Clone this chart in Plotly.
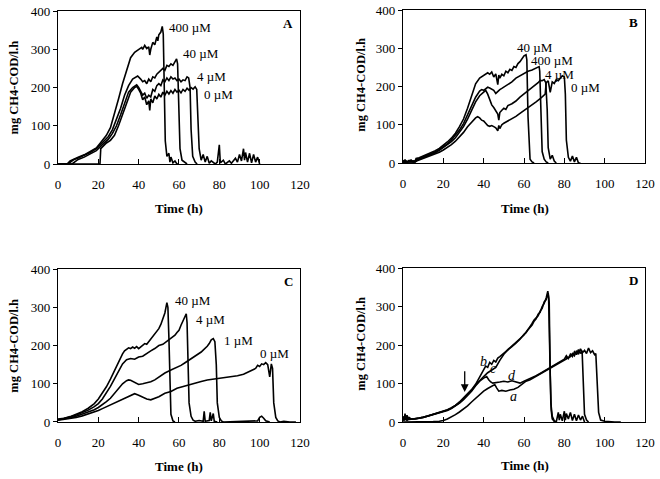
import plotly.graph_objects as go

# ---------------- Panel A ----------------
A_T_400 = [0, 4.5, 6, 8, 10, 13, 16, 19, 21, 22.5, 24, 26, 28, 30, 32, 34, 36, 38, 40, 41.5, 42, 43, 44, 45, 45.5, 46, 47, 48, 49, 49.5, 50, 51, 51.7, 52.2, 52.7, 53.2, 54, 55, 55.5, 56, 57, 58, 59, 60]
A_V_400 = [0, 0, 8, 14, 18, 24, 32, 42, 55, 65, 75, 95, 130, 170, 210, 245, 278, 292, 300, 305, 300, 310, 302, 306, 285, 300, 318, 312, 332, 322, 338, 345, 360, 340, 200, 60, 20, 28, 5, 18, 3, 8, 0, 0]

A_T_40 = [0, 5, 6.5, 8, 10, 13, 16, 19, 21, 23, 25, 27, 29, 31, 33, 35, 37, 39.5, 41, 42, 43, 44, 45, 46, 47, 48, 49, 50, 51, 52, 53, 54, 55, 56, 57, 58, 58.8, 59.3, 60, 60.5, 61.5, 63, 64]
A_V_40 = [0, 0, 6, 12, 16, 22, 30, 40, 50, 60, 72, 90, 115, 145, 180, 205, 222, 230, 222, 215, 218, 210, 222, 215, 228, 225, 235, 240, 245, 250, 245, 258, 255, 262, 258, 268, 275, 262, 120, 40, 10, 5, 0]

A_T_4 = [0, 7, 8.5, 10, 13, 16, 19, 21.5, 23, 25, 27, 29, 31, 33, 35, 37, 39, 40, 41, 42, 43, 44, 45, 46, 47, 48, 49, 50, 51, 52, 53, 54, 55, 56, 57, 58, 59, 60, 61, 62, 63, 64, 64.8, 65.5, 66, 66.8, 68, 69]
A_V_4 = [0, 0, 6, 12, 18, 26, 35, 48, 55, 65, 80, 100, 128, 160, 188, 200, 207, 200, 190, 180, 185, 172, 180, 175, 195, 190, 205, 210, 205, 220, 215, 225, 218, 228, 222, 225, 218, 222, 215, 220, 218, 228, 225, 200, 90, 20, 5, 0]

A_T_0 = [0, 20.8, 21.2, 22, 24, 26, 28, 30, 32, 34, 36, 38, 39, 40, 41, 42, 43, 44, 45, 45.5, 46, 47, 48, 49, 50, 51, 52, 53, 54, 55, 56, 57, 58, 59, 60, 61, 62, 63, 64, 65, 66, 67, 68, 68.8, 69.5, 70, 71, 72, 73, 74, 75, 76, 78, 79, 80, 80.5, 82, 83, 85, 86, 88, 89, 90, 91, 92, 92.5, 93, 94, 95, 96, 97, 98, 99, 100]
A_V_0 = [0, 0, 40, 45, 55, 62, 75, 100, 130, 160, 188, 200, 203, 195, 185, 168, 175, 155, 165, 140, 170, 160, 178, 170, 182, 175, 188, 180, 190, 183, 192, 185, 195, 188, 193, 186, 195, 190, 198, 193, 200, 196, 202, 195, 120, 40, 10, 25, 5, 20, 2, 8, 0, 5, 50, 3, 10, 0, 8, 2, 15, 5, 25, 8, 40, 10, 30, 5, 28, 3, 25, 5, 18, 0]

# ---------------- Panel B ----------------
B_T_40 = [0, 1, 2, 3, 4, 5, 6, 6.5, 8, 10, 12, 14, 16, 18, 20, 22, 24, 26, 28, 30, 32, 34, 36, 38, 40, 42, 43, 44, 45, 46, 47, 47.5, 48, 49, 50, 51, 52, 53, 54, 55, 56, 57, 58, 59, 60, 61, 61.4, 62, 62.5, 63, 64, 65]
B_V_40 = [5, 8, 3, 7, 4, 6, 5, 12, 14, 18, 22, 26, 32, 38, 46, 55, 65, 78, 95, 115, 143, 178, 207, 222, 230, 236, 232, 238, 225, 233, 205, 230, 222, 232, 228, 240, 236, 245, 242, 252, 250, 260, 265, 272, 280, 283, 270, 120, 40, 10, 3, 0]

B_T_400 = [0, 1, 2, 3, 4, 5, 6, 7, 8, 10, 12, 14, 16, 18, 20, 22, 24, 26, 28, 30, 32, 34, 36, 38, 39, 40, 41, 42, 43, 44, 45, 46, 47, 48, 49, 50, 52, 54, 56, 58, 60, 62, 64, 66, 67.5, 67.8, 68.3, 69, 70, 71, 72]
B_V_400 = [3, 6, 2, 5, 8, 3, 4, 10, 12, 16, 20, 24, 29, 35, 42, 50, 60, 72, 86, 103, 125, 150, 172, 188, 192, 190, 195, 198, 196, 193, 190, 182, 188, 192, 195, 198, 205, 212, 222, 228, 234, 240, 243, 247, 252, 240, 120, 30, 10, 3, 0]

B_T_4 = [0, 6, 7, 8, 10, 12, 14, 16, 18, 20, 22, 24, 26, 28, 30, 32, 34, 36, 38, 40, 41, 42, 43, 44, 45, 46, 47, 47.5, 48, 49, 50, 51, 52, 54, 56, 58, 60, 62, 64, 66, 67, 68, 69, 70, 70.8, 71.5, 72, 73, 74, 75, 76]
B_V_4 = [4, 3, 8, 10, 14, 18, 22, 27, 33, 40, 47, 56, 66, 80, 95, 115, 138, 160, 176, 186, 190, 180, 165, 152, 145, 138, 128, 112, 132, 138, 143, 140, 150, 155, 162, 172, 180, 188, 198, 205, 210, 216, 215, 218, 210, 140, 40, 10, 20, 5, 0]

B_T_0 = [0, 6, 7, 8, 10, 12, 14, 16, 18, 20, 22, 24, 26, 28, 30, 32, 34, 36, 37, 38, 39, 40, 41, 42, 43, 44, 45, 46, 47, 47.5, 48, 49, 50, 52, 54, 56, 58, 60, 62, 64, 66, 68, 69.5, 70.5, 71, 72, 73, 73.5, 74, 75, 76, 77, 78, 79, 80, 80.5, 81, 82, 83, 84, 85, 86, 87, 88]
B_V_0 = [2, 3, 6, 8, 12, 15, 19, 23, 28, 34, 40, 48, 57, 68, 80, 95, 108, 118, 121, 118, 112, 110, 104, 98, 96, 98, 95, 92, 84, 98, 90, 100, 104, 110, 115, 122, 130, 137, 145, 152, 160, 168, 175, 180, 210, 215, 185, 200, 212, 208, 218, 215, 222, 228, 225, 180, 60, 15, 5, 18, 3, 15, 0, 0]

# ---------------- Panel C ----------------
C_T_40 = [0, 3, 6, 9, 12, 15, 18, 20, 22, 24, 26, 28, 30, 32, 33, 34, 35, 36, 37, 38, 39, 40, 41, 42, 43, 44, 45, 46, 47, 48, 49, 50, 51, 52, 53, 54, 54.5, 55, 55.5, 56, 57, 58]
C_V_40 = [8, 10, 14, 20, 27, 36, 48, 60, 75, 92, 112, 135, 157, 178, 186, 190, 194, 192, 196, 193, 197, 192, 196, 200, 205, 203, 210, 216, 222, 230, 236, 244, 255, 268, 285, 312, 300, 220, 90, 20, 3, 0]

C_T_4 = [0, 3, 6, 9, 12, 15, 18, 20, 22, 24, 26, 28, 30, 32, 34, 36, 38, 40, 42, 44, 46, 48, 50, 52, 53, 55, 57, 58, 59, 60, 61, 62, 63, 63.6, 64, 64.5, 65, 66, 67, 68, 70, 72, 72.5, 73, 75, 75.5, 76, 77, 77.5, 79]
C_V_4 = [6, 9, 13, 18, 24, 31, 40, 48, 60, 75, 93, 113, 133, 152, 163, 166, 164, 170, 172, 180, 186, 192, 200, 203, 207, 213, 222, 227, 234, 240, 253, 264, 275, 283, 260, 150, 50, 15, 5, 2, 4, 2, 28, 2, 4, 25, 3, 22, 2, 0]

C_T_1 = [0, 3, 6, 9, 12, 15, 18, 20, 22, 24, 26, 28, 30, 32, 34, 35, 36, 38, 40, 42, 44, 46, 48, 50, 53, 56, 59, 61, 63, 65, 67, 69, 70, 71, 72, 73, 74, 75, 76, 77, 77.8, 78.5, 79, 80, 81, 82, 90, 99, 100, 101, 102, 103, 105]
C_V_1 = [6, 8, 11, 15, 20, 26, 32, 38, 45, 53, 62, 74, 88, 100, 108, 110, 109, 104, 98, 100, 102, 105, 110, 118, 128, 136, 143, 148, 155, 162, 168, 174, 178, 183, 188, 192, 198, 205, 215, 218, 210, 150, 50, 12, 3, 0, 2, 3, 12, 15, 10, 3, 0]

C_T_0 = [0, 3, 6, 9, 12, 15, 18, 20, 22, 24, 26, 28, 30, 32, 34, 36, 38, 40, 42, 44, 46, 48, 50, 53, 56, 59, 62, 65, 68, 71, 74, 77, 80, 83, 86, 89, 92, 94, 96, 98, 99, 100, 101, 102, 103, 104, 105, 105.8, 106.4, 107, 108, 109, 110, 112, 115, 118]
C_V_0 = [5, 7, 9, 12, 16, 21, 26, 30, 35, 40, 45, 50, 55, 60, 66, 71, 74, 70, 64, 60, 58, 61, 66, 75, 80, 88, 93, 98, 103, 106, 110, 112, 114, 116, 118, 121, 125, 130, 135, 140, 148, 145, 152, 150, 155, 150, 118, 152, 140, 50, 12, 3, 0, 2, 0, 0]

# ---------------- Panel D ----------------
D_T_b = [0, 0.5, 1, 1.5, 2, 2.5, 3, 4, 6, 8, 10, 12, 14, 16, 18, 20, 22, 24, 26, 28, 30, 32, 34, 36, 38, 40, 41, 42, 43, 44, 45, 46, 47, 48, 50, 52, 54, 56, 58, 60, 61, 62, 63, 64, 65, 66, 67, 68, 69, 70, 71, 71.8, 72.2, 72.8, 73.3, 74, 75, 76, 77, 77.5, 78, 79, 80, 80.5, 81, 82, 83, 84, 85, 86, 87, 88, 89, 90]
D_V_b = [15, 3, 22, 5, 18, 6, 12, 8, 8, 10, 13, 15, 18, 21, 24, 27, 32, 37, 43, 52, 62, 72, 84, 98, 118, 138, 145, 142, 155, 150, 160, 156, 166, 170, 178, 186, 196, 205, 215, 228, 232, 240, 246, 252, 262, 268, 280, 285, 300, 308, 322, 340, 322, 150, 50, 15, 3, 0, 25, 5, 20, 3, 28, 5, 22, 8, 25, 4, 20, 3, 18, 5, 15, 0]

D_T_c = [0, 1, 2, 3, 4, 6, 8, 10, 12, 14, 16, 18, 20, 22, 24, 26, 28, 30, 32, 34, 36, 38, 40, 42, 44, 46, 48, 50, 52, 54, 56, 58, 60, 62, 63, 64, 65, 66, 67, 68, 69, 70, 71, 72, 72.5, 73, 73.5, 74, 75, 76]
D_V_c = [5, 10, 4, 9, 7, 8, 10, 12, 15, 18, 21, 24, 27, 31, 36, 42, 50, 60, 70, 82, 96, 108, 118, 128, 135, 142, 160, 176, 188, 198, 206, 218, 226, 240, 250, 256, 265, 270, 276, 288, 295, 312, 318, 335, 310, 120, 30, 8, 2, 0]

D_T_d = [0, 2, 4, 6, 8, 10, 12, 14, 16, 18, 20, 22, 24, 26, 28, 30, 32, 34, 36, 38, 40, 41.5, 42.5, 43.5, 44.5, 46, 48, 50, 52, 54, 56, 58, 60, 62, 64, 66, 68, 70, 72, 74, 76, 78, 80, 81, 82, 83, 84, 85, 86, 87, 88, 88.8, 89.4, 90, 91, 92]
D_V_d = [8, 6, 7, 8, 10, 12, 15, 17, 20, 23, 26, 30, 35, 41, 49, 58, 68, 80, 94, 106, 114, 118, 110, 104, 101, 103, 104, 106, 104, 107, 104, 101, 106, 110, 114, 120, 126, 132, 138, 145, 150, 157, 163, 172, 165, 176, 170, 182, 175, 188, 178, 185, 120, 20, 5, 0]

D_T_a = [0, 5, 10, 15, 18, 20, 22, 24, 26, 28, 30, 32, 34, 36, 38, 40, 42, 44, 45.5, 46.5, 47.5, 49, 51, 53, 55, 57, 59, 61, 63, 65, 67, 69, 71, 73, 75, 77, 79, 81, 83, 84, 85, 86, 87, 88, 89, 90, 91, 92, 93, 94, 95, 95.6, 96.2, 97, 98, 100, 105, 108]
D_V_a = [0, 0, 0, 1, 2, 4, 8, 13, 19, 26, 33, 42, 52, 62, 72, 80, 87, 93, 97, 88, 80, 82, 80, 83, 85, 90, 98, 106, 110, 116, 121, 127, 133, 140, 146, 153, 158, 165, 170, 178, 172, 185, 176, 190, 180, 186, 178, 192, 180, 185, 175, 178, 120, 25, 5, 2, 0, 0]

# ---------------- Labels ----------------
A_LABELS = ["400 \u00b5M", "40 \u00b5M", "4 \u00b5M", "0 \u00b5M"]
A_LABEL_T = [54, 61, 68, 71.2]
A_LABEL_V = [357, 288, 230, 183]
B_LABELS = ["40 \u00b5M", "400 \u00b5M", "4 \u00b5M", "0 \u00b5M"]
B_LABEL_T = [55.5, 62.6, 69.6, 82.5]
B_LABEL_V = [303, 267, 231, 197]
C_LABELS = ["40 \u00b5M", "4 \u00b5M", "1 \u00b5M", "0 \u00b5M"]
C_LABEL_T = [57.2, 67.6, 81.1, 99.3]
C_LABEL_V = [317, 269, 212, 178]
D_LABELS = ["b", "c", "d", "a"]
D_LABEL_T = [39.8, 44.9, 53.9, 54.7]
D_LABEL_V = [157, 140, 120, 66]
PANEL_LETTERS = ["A", "B", "C", "D"]
X_TICKS = [0, 20, 40, 60, 80, 100, 120]
Y_TICKS = [0, 100, 200, 300, 400]
Y_TITLE = "mg CH4-COD/l.h"
X_TITLE = "Time (h)"

SERIF = "Liberation Serif"
fig = go.Figure()

panels = [
    ("x", "y", [(A_T_400, A_V_400), (A_T_40, A_V_40), (A_T_4, A_V_4), (A_T_0, A_V_0)],
     A_LABELS, A_LABEL_T, A_LABEL_V),
    ("x2", "y2", [(B_T_40, B_V_40), (B_T_400, B_V_400), (B_T_4, B_V_4), (B_T_0, B_V_0)],
     B_LABELS, B_LABEL_T, B_LABEL_V),
    ("x3", "y3", [(C_T_40, C_V_40), (C_T_4, C_V_4), (C_T_1, C_V_1), (C_T_0, C_V_0)],
     C_LABELS, C_LABEL_T, C_LABEL_V),
    ("x4", "y4", [(D_T_b, D_V_b), (D_T_c, D_V_c), (D_T_d, D_V_d), (D_T_a, D_V_a)],
     D_LABELS, D_LABEL_T, D_LABEL_V),
]

annotations = []
for i, (xa, ya, curves, labs, lt, lv) in enumerate(panels):
    for t, v in curves:
        fig.add_trace(go.Scatter(x=t, y=v, xaxis=xa, yaxis=ya, mode="lines",
                                 line=dict(color="black", width=1.6),
                                 showlegend=False, hoverinfo="skip"))
    for s, tx, vy in zip(labs, lt, lv):
        txt = s if i < 3 else "<i>" + s + "</i>"
        annotations.append(dict(x=tx, y=vy, xref=xa, yref=ya, text=txt, showarrow=False,
                                xanchor="left" if i < 3 else "center", yanchor="middle",
                                font=dict(family=SERIF, size=13 if i < 3 else 14, color="black")))
    annotations.append(dict(x=114.3, y=367, xref=xa, yref=ya, text="<b>" + PANEL_LETTERS[i] + "</b>",
                            showarrow=False, xanchor="center", yanchor="middle",
                            font=dict(family=SERIF, size=13, color="black")))

# arrow in panel D
annotations.append(dict(x=30.6, y=78, xref="x4", yref="y4", ax=30.6, ay=136, axref="x4", ayref="y4",
                        text="", showarrow=True, arrowhead=2, arrowsize=1.2, arrowwidth=1.3,
                        arrowcolor="black"))

# axis titles
ytitle_pos = [(0.0212, 0.8173), (0.5465, 0.8225), (0.0212, 0.2783), (0.5465, 0.2818)]
xtitle_pos = [(0.2712, 0.5637), (0.7955, 0.5651), (0.2712, 0.0271), (0.7955, 0.0278)]
for (yx, yy), (xx, xy) in zip(ytitle_pos, xtitle_pos):
    annotations.append(dict(x=yx, y=yy, xref="paper", yref="paper", text="<b>" + Y_TITLE + "</b>",
                            textangle=-90, showarrow=False, xanchor="center", yanchor="middle",
                            font=dict(family=SERIF, size=12.5, color="black")))
    annotations.append(dict(x=xx, y=xy, xref="paper", yref="paper", text="<b>" + X_TITLE + "</b>",
                            showarrow=False, xanchor="center", yanchor="middle",
                            font=dict(family=SERIF, size=13, color="black")))

xdom = [[0.0879, 0.4545], [0.6106, 0.9773], [0.0879, 0.4545], [0.6106, 0.9773]]
ydom = [[0.6576, 0.9770], [0.6597, 0.9791], [0.1190, 0.4384], [0.1190, 0.4405]]

layout_axes = {}
for i in range(4):
    sx = "" if i == 0 else str(i + 1)
    layout_axes["xaxis" + sx] = dict(
        domain=xdom[i], anchor="y" + sx, range=[0, 120], tickvals=X_TICKS,
        showline=True, linecolor="black", linewidth=1.3, mirror=True,
        ticks="inside", ticklen=5, tickcolor="black", tickwidth=1,
        showgrid=False, zeroline=False, ticklabelstandoff=8, automargin=False,
        tickfont=dict(family=SERIF, size=13, color="black"))
    layout_axes["yaxis" + sx] = dict(
        domain=ydom[i], anchor="x" + sx, range=[0, 400], tickvals=Y_TICKS,
        showline=True, linecolor="black", linewidth=1.3, mirror=True,
        ticks="outside", ticklen=4, tickcolor="black", tickwidth=1,
        showgrid=False, zeroline=False, automargin=False,
        tickfont=dict(family=SERIF, size=13, color="black"))

fig.update_layout(width=660, height=479, autosize=False,
                  margin=dict(l=0, r=0, t=0, b=0, pad=0, autoexpand=False),
                  paper_bgcolor="white", plot_bgcolor="white",
                  annotations=annotations, **layout_axes)

fig.write_html("out.html", config={"responsive": False, "displayModeBar": False},
               post_script="document.body.style.margin='0px';document.body.style.padding='0px';")
